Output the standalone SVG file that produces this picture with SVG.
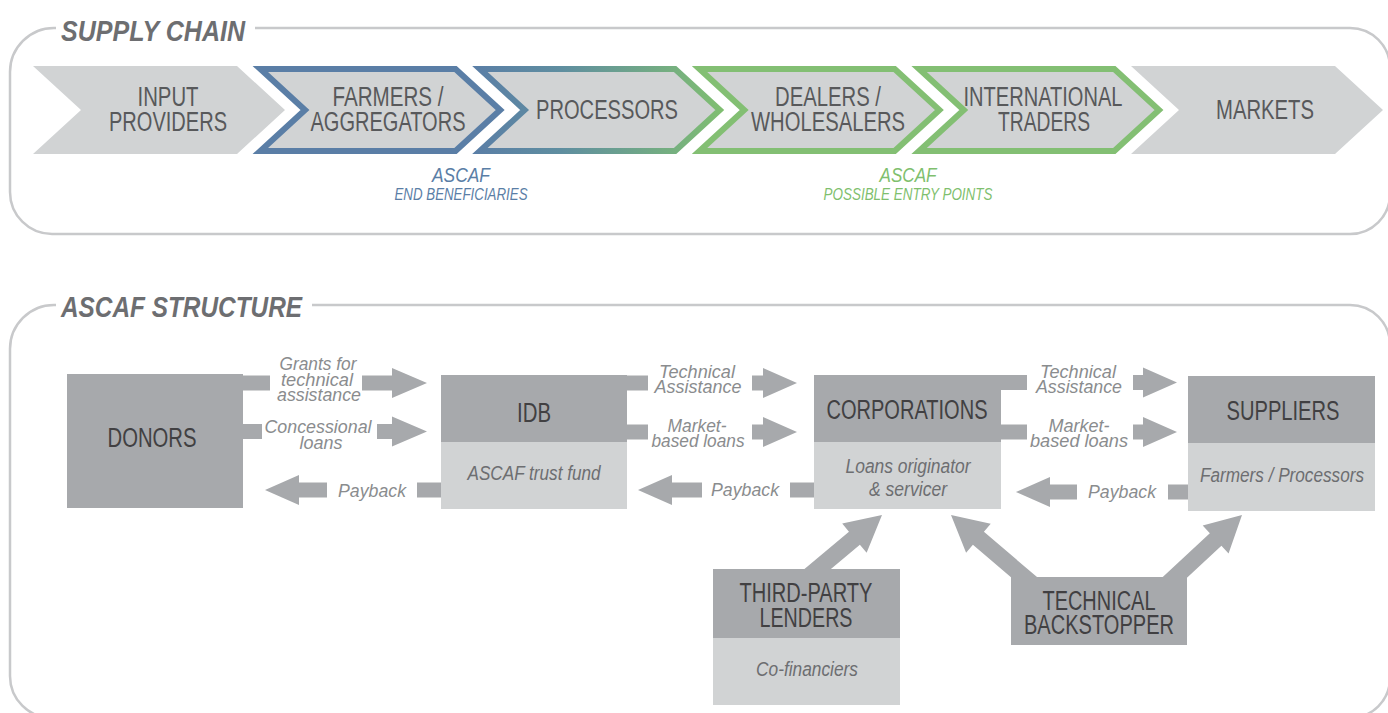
<svg xmlns="http://www.w3.org/2000/svg" width="1388" height="713" viewBox="0 0 1388 713">
<defs>
<linearGradient id="gBG" x1="473" y1="0" x2="725" y2="0" gradientUnits="userSpaceOnUse">
<stop offset="0" stop-color="#5a7ea6"/><stop offset="0.35" stop-color="#5f8ea0"/><stop offset="1" stop-color="#80bf70"/>
</linearGradient>
<style>
.panel{fill:none;stroke:#c8c9cb;stroke-width:2.5}
.title{font-family:"Liberation Sans",Arial,sans-serif;font-weight:bold;font-style:italic;font-size:29px;fill:#6d6e71}
.chev{fill:#d1d3d4}
.cb{fill:#d1d3d4;stroke:#5a7ea6;stroke-width:6;stroke-linejoin:miter}
.cg{fill:#d1d3d4;stroke:#83bf73;stroke-width:6;stroke-linejoin:miter}
.cbg{fill:#d1d3d4;stroke:url(#gBG);stroke-width:6;stroke-linejoin:miter}
.cl{font-family:"Liberation Sans",Arial,sans-serif;font-size:27px;fill:#58595b;text-anchor:middle}
.ab{font-family:"Liberation Sans",Arial,sans-serif;font-style:italic;fill:#5a7ea6;text-anchor:middle}
.ag{font-family:"Liberation Sans",Arial,sans-serif;font-style:italic;fill:#7fbf6e;text-anchor:middle}
.dark{fill:#a7a9ac}
.light{fill:#d1d3d4}
.nt{font-family:"Liberation Sans",Arial,sans-serif;font-size:27px;fill:#414042;text-anchor:middle}
.st{font-family:"Liberation Sans",Arial,sans-serif;font-style:italic;font-size:20px;fill:#6d6e71;text-anchor:middle}
.lab{font-family:"Liberation Sans",Arial,sans-serif;font-style:italic;font-size:18px;fill:#8a8c8e;text-anchor:middle}
.arr{fill:#a7a9ac}
</style>
</defs>

<g id="supply-chain-panel">
<path class="panel" d="M255,28 H1350 A40,40 0 0 1 1390,68 V194 A40,40 0 0 1 1350,234 H52 A42,42 0 0 1 10,192 V72 A44,44 0 0 1 54,28 H56"/>
<text class="title" x="61" y="41" textLength="184" lengthAdjust="spacingAndGlyphs">SUPPLY CHAIN</text>
</g>

<g id="chain-input">
<polygon class="chev" points="33,66 237,66 285,110 237,154 33,154 81,110"/>
<text class="cl" x="168" y="106" textLength="61" lengthAdjust="spacingAndGlyphs">INPUT</text>
<text class="cl" x="168" y="131" textLength="118" lengthAdjust="spacingAndGlyphs">PROVIDERS</text>
</g>
<g id="chain-farmers">
<polygon class="cb" points="260.3,69 455.5,69 500.2,110 455.5,151 260.3,151 305,110"/>
<text class="cl" x="388" y="106" textLength="111" lengthAdjust="spacingAndGlyphs">FARMERS /</text>
<text class="cl" x="388" y="131" textLength="155" lengthAdjust="spacingAndGlyphs">AGGREGATORS</text>
</g>
<g id="chain-processors">
<polygon class="cbg" points="479.9,69 675.1,69 719.8,110 675.1,151 479.9,151 524.6,110"/>
<text class="cl" x="607" y="119" textLength="142" lengthAdjust="spacingAndGlyphs">PROCESSORS</text>
</g>
<g id="chain-dealers">
<polygon class="cg" points="699.5,69 894.7,69 939.4,110 894.7,151 699.5,151 744.2,110"/>
<text class="cl" x="828" y="106" textLength="106" lengthAdjust="spacingAndGlyphs">DEALERS /</text>
<text class="cl" x="828" y="131" textLength="154" lengthAdjust="spacingAndGlyphs">WHOLESALERS</text>
</g>
<g id="chain-traders">
<polygon class="cg" points="919.1,69 1114.3,69 1159,110 1114.3,151 919.1,151 963.8,110"/>
<text class="cl" x="1043" y="106" textLength="159" lengthAdjust="spacingAndGlyphs">INTERNATIONAL</text>
<text class="cl" x="1044" y="131" textLength="92" lengthAdjust="spacingAndGlyphs">TRADERS</text>
</g>
<g id="chain-markets">
<polygon class="chev" points="1131,66 1335,66 1383,110 1335,154 1131,154 1179,110"/>
<text class="cl" x="1265" y="119" textLength="98" lengthAdjust="spacingAndGlyphs">MARKETS</text>
</g>
<g id="chain-notes">
<text class="ab" x="461" y="182" font-size="21" textLength="58" lengthAdjust="spacingAndGlyphs">ASCAF</text>
<text class="ab" x="461" y="200" font-size="16" textLength="133" lengthAdjust="spacingAndGlyphs">END BENEFICIARIES</text>
<text class="ag" x="908" y="182" font-size="21" textLength="57" lengthAdjust="spacingAndGlyphs">ASCAF</text>
<text class="ag" x="908" y="200" font-size="16" textLength="169" lengthAdjust="spacingAndGlyphs">POSSIBLE ENTRY POINTS</text>
</g>

<g id="structure-panel">
<path class="panel" d="M312,305 H1350 A40,40 0 0 1 1390,345 V678 A40,40 0 0 1 1350,718 H52 A42,42 0 0 1 10,676 V349 A44,44 0 0 1 54,305 H56"/>
<text class="title" x="61" y="317" textLength="241" lengthAdjust="spacingAndGlyphs">ASCAF STRUCTURE</text>
</g>

<g id="connectors">
<!-- Donors -> IDB -->
<rect class="arr" x="243" y="375.5" width="27" height="15"/>
<polygon class="arr" points="362,375.5 392,375.5 392,368 427,383 392,398 392,390.5 362,390.5"/>
<text class="lab" x="318" y="370" textLength="77" lengthAdjust="spacingAndGlyphs">Grants for</text>
<text class="lab" x="317" y="386" textLength="72" lengthAdjust="spacingAndGlyphs">technical</text>
<text class="lab" x="319" y="401" textLength="84" lengthAdjust="spacingAndGlyphs">assistance</text>
<rect class="arr" x="243" y="424" width="19" height="15"/>
<polygon class="arr" points="377,424 392,424 392,416.5 427,431.5 392,446.5 392,439 377,439"/>
<text class="lab" x="318" y="433" textLength="107" lengthAdjust="spacingAndGlyphs">Concessional</text>
<text class="lab" x="321" y="449" textLength="43" lengthAdjust="spacingAndGlyphs">loans</text>
<!-- IDB -> Donors payback -->
<rect class="arr" x="417" y="482.5" width="24" height="15"/>
<polygon class="arr" points="265,490 299,475 299,482.5 327,482.5 327,497.5 299,497.5 299,505"/>
<text class="lab" x="372" y="497" textLength="68" lengthAdjust="spacingAndGlyphs">Payback</text>

<!-- IDB -> Corporations -->
<rect class="arr" x="627" y="375.5" width="21" height="15"/>
<polygon class="arr" points="752,375.5 763,375.5 763,368 797,383 763,398 763,390.5 752,390.5"/>
<text class="lab" x="697" y="378" textLength="76" lengthAdjust="spacingAndGlyphs">Technical</text>
<text class="lab" x="698" y="393" textLength="87" lengthAdjust="spacingAndGlyphs">Assistance</text>
<rect class="arr" x="627" y="424.5" width="21" height="15"/>
<polygon class="arr" points="752,424.5 763,424.5 763,417 797,432 763,447 763,439.5 752,439.5"/>
<text class="lab" x="697" y="432" textLength="59" lengthAdjust="spacingAndGlyphs">Market-</text>
<text class="lab" x="698" y="447" textLength="93" lengthAdjust="spacingAndGlyphs">based loans</text>
<!-- Corporations -> IDB payback -->
<rect class="arr" x="790" y="482.5" width="24" height="15"/>
<polygon class="arr" points="638,490 672,475 672,482.5 702,482.5 702,497.5 672,497.5 672,505"/>
<text class="lab" x="745" y="496" textLength="68" lengthAdjust="spacingAndGlyphs">Payback</text>

<!-- Corporations -> Suppliers -->
<rect class="arr" x="1001" y="375" width="26" height="15"/>
<polygon class="arr" points="1133,375 1143,375 1143,367.5 1177,382.5 1143,397.5 1143,390 1133,390"/>
<text class="lab" x="1078" y="378" textLength="76" lengthAdjust="spacingAndGlyphs">Technical</text>
<text class="lab" x="1079" y="393" textLength="86" lengthAdjust="spacingAndGlyphs">Assistance</text>
<rect class="arr" x="1001" y="424.5" width="26" height="15"/>
<polygon class="arr" points="1133,424.5 1143,424.5 1143,417 1177,432 1143,447 1143,439.5 1133,439.5"/>
<text class="lab" x="1079" y="432" textLength="61" lengthAdjust="spacingAndGlyphs">Market-</text>
<text class="lab" x="1079" y="447" textLength="98" lengthAdjust="spacingAndGlyphs">based loans</text>
<!-- Suppliers -> Corporations payback -->
<rect class="arr" x="1168" y="484.5" width="20" height="15"/>
<polygon class="arr" points="1016,492 1050,477 1050,484.5 1077,484.5 1077,499.5 1050,499.5 1050,507"/>
<text class="lab" x="1122" y="498" textLength="68" lengthAdjust="spacingAndGlyphs">Payback</text>

<!-- diagonal arrows -->
<polygon class="arr" transform="translate(882,515) rotate(-40)" points="0,0 -36,-19 -36,-8.5 -98,-8.5 -98,8.5 -36,8.5 -36,19"/>
<polygon class="arr" transform="translate(951,515) rotate(-139.6)" points="0,0 -36,-19 -36,-8.5 -110,-8.5 -110,8.5 -36,8.5 -36,19"/>
<polygon class="arr" transform="translate(1242,515) rotate(-42.9)" points="0,0 -36,-19 -36,-8.5 -108,-8.5 -108,8.5 -36,8.5 -36,19"/>
</g>

<g id="node-donors">
<rect class="dark" x="67" y="374" width="176" height="134"/>
<text class="nt" x="152" y="447" textLength="89" lengthAdjust="spacingAndGlyphs">DONORS</text>
</g>
<g id="node-idb">
<rect class="dark" x="441" y="375" width="186" height="67"/>
<rect class="light" x="441" y="442" width="186" height="67"/>
<text class="nt" x="534" y="422" textLength="34" lengthAdjust="spacingAndGlyphs">IDB</text>
<text class="st" x="534" y="480" textLength="133" lengthAdjust="spacingAndGlyphs">ASCAF trust fund</text>
</g>
<g id="node-corporations">
<rect class="dark" x="814" y="375" width="187" height="67"/>
<rect class="light" x="814" y="442" width="187" height="67"/>
<text class="nt" x="907" y="419" textLength="161" lengthAdjust="spacingAndGlyphs">CORPORATIONS</text>
<text class="st" x="908" y="473" textLength="125" lengthAdjust="spacingAndGlyphs">Loans originator</text>
<text class="st" x="908" y="496" textLength="78" lengthAdjust="spacingAndGlyphs">&amp; servicer</text>
</g>
<g id="node-suppliers">
<rect class="dark" x="1188" y="376" width="187" height="67"/>
<rect class="light" x="1188" y="443" width="187" height="68"/>
<text class="nt" x="1283" y="420" textLength="113" lengthAdjust="spacingAndGlyphs">SUPPLIERS</text>
<text class="st" x="1282" y="482" textLength="164" lengthAdjust="spacingAndGlyphs">Farmers / Processors</text>
</g>
<g id="node-third-party">
<rect class="dark" x="713" y="569" width="187" height="69"/>
<rect class="light" x="713" y="638" width="187" height="67"/>
<text class="nt" x="806" y="602" textLength="133" lengthAdjust="spacingAndGlyphs">THIRD-PARTY</text>
<text class="nt" x="806" y="627" textLength="93" lengthAdjust="spacingAndGlyphs">LENDERS</text>
<text class="st" x="807" y="676" textLength="102" lengthAdjust="spacingAndGlyphs">Co-financiers</text>
</g>
<g id="node-backstopper">
<rect class="dark" x="1011" y="577" width="176" height="68"/>
<text class="nt" x="1099" y="610" textLength="113" lengthAdjust="spacingAndGlyphs">TECHNICAL</text>
<text class="nt" x="1099" y="634" textLength="150" lengthAdjust="spacingAndGlyphs">BACKSTOPPER</text>
</g>
</svg>
